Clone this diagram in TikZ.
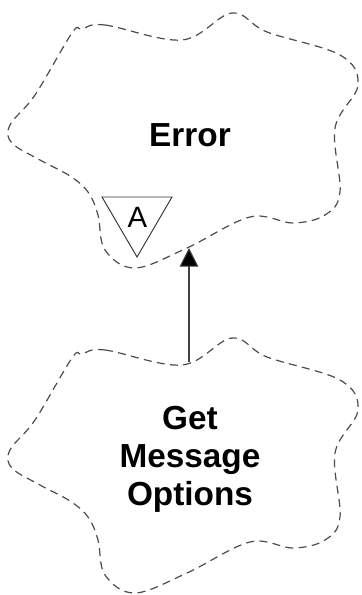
\documentclass[tikz,border=0pt]{standalone}
\usepackage{fontspec}
\setmainfont{Liberation Sans}
\usetikzlibrary{arrows.meta}

\begin{document}
\begin{tikzpicture}[
    x=0.75pt, y=-0.75pt,
    % Style for the dashed cloud outlines
    cloud/.style = {draw=black!70, line width=0.9pt, dash pattern=on 6pt off 4pt},
    % Style for the bold text inside the clouds
    title/.style = {font=\bfseries\fontsize{25}{28.5}\selectfont, align=center, inner sep=0pt},
    % Style for the small triangle marker
    tri/.style = {draw=black!80, line width=0.7pt, fill=white},
    % Style for the connector: plain line with a big filled head
    arrow/.style = {-{Triangle[length=14pt, width=14pt, fill=black]}, line width=0.8pt, black!75}
]
    \useasboundingbox (0,0) rectangle (361,595);

    % --- CLOUDS (same outline, second one moved down) ---
    \foreach \dy in {0,325} {
        \draw[cloud, shift={(0,\dy)}] plot[smooth cycle, tension=0.6] coordinates {
            (82,29) (105,25) (182,40) (232,13) (267,32) (340,55) (358,85)
            (335,128) (340,192) (325,215) (293,223) (250,217) (187,248)
            (135,268) (105,250) (98,215) (88,192) (70,176) (40,160)
            (12,143) (10,125) (35,95) (72,33)};
    }

    % --- LABELS ---
    \node[title] (err) at (190,135) {Error};
    \node[title] (gmo) at (190,459) {Get\\Message\\Options};

    % --- ABSTRACT MARKER ---
    \draw[tri] (102,197) -- (172,197) -- (137,257) -- cycle;
    \node[font=\fontsize{22}{26}\selectfont, inner sep=0pt] (abs) at (137.5,217) {A};

    % --- CONNECTOR ---
    \coordinate (errbot) at (189,248);
    \coordinate (gmotop) at (189,362);
    \draw[arrow] (gmotop) -- (errbot);

\end{tikzpicture}
\end{document}
